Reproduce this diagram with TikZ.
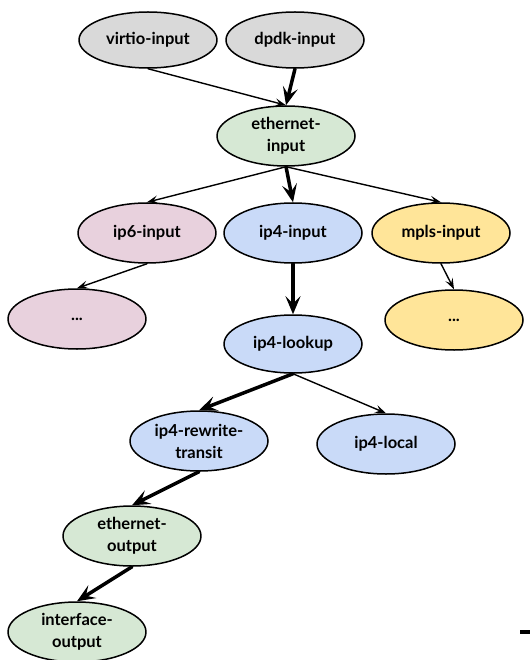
\documentclass[tikz,border=0pt]{standalone}
\usepackage{fontspec}
\setmainfont{Lato}
\usetikzlibrary{arrows.meta,shapes.geometric}

\definecolor{srcgray}{RGB}{217,217,217}
\definecolor{ethgreen}{RGB}{214,232,212}
\definecolor{ipsixpink}{RGB}{232,209,221}
\definecolor{ipfourblue}{RGB}{201,218,248}
\definecolor{mplsyellow}{RGB}{255,229,153}

\begin{document}
\begin{tikzpicture}[x=1pt, y=-1pt, line cap=round, line join=round,
    graphnode/.style={ellipse, draw, line width=1.5pt, inner sep=0pt,
        minimum width=138pt, minimum height=60pt, align=center,
        font=\fontsize{16.5}{22}\selectfont\bfseries},
    thinedge/.style={-{Stealth[length=11pt,width=8pt,inset=4.5pt]}, line width=1.4pt},
    thickedge/.style={-{Stealth[length=18pt,width=15pt,inset=7.5pt]}, line width=3.5pt}]

\useasboundingbox (0,0) rectangle (530,660);

% Sources -------------------------------------
\node[graphnode, fill=srcgray, minimum height=56pt] (virtio) at (148,40) {virtio-input};
\node[graphnode, fill=srcgray, minimum height=56pt] (dpdk) at (295,40) {dpdk-input};

% Ethernet / L3 inputs -------------------------
\node[graphnode, fill=ethgreen] (ethin) at (286,136) {ethernet-\\input};
\node[graphnode, fill=ipsixpink] (ipsix) at (147,233) {ip6-input};
\node[graphnode, fill=ipfourblue] (ipfour) at (293,233) {ip4-input};
\node[graphnode, fill=mplsyellow] (mpls) at (441,233) {mpls-input};
\node[graphnode, fill=ipsixpink] (ipsixmore) at (77,319) {...};
\node[graphnode, fill=mplsyellow] (mplsmore) at (454,320) {...};

% ip4 path ---------------------------------------
\node[graphnode, fill=ipfourblue, minimum height=58pt] (lookup) at (293,344) {ip4-lookup};
\node[graphnode, fill=ipfourblue] (rewrite) at (199,441) {ip4-rewrite-\\transit};
\node[graphnode, fill=ipfourblue] (local) at (386,444) {ip4-local};
\node[graphnode, fill=ethgreen] (ethout) at (132,536) {ethernet-\\output};
\node[graphnode, fill=ethgreen] (ifout) at (77,632) {interface-\\output};

% Edges ------------------------------------------
\draw[thinedge] (virtio.south) -- (ethin.north);
\draw[thickedge] (dpdk.south) -- (ethin.north);

\draw[thinedge] (ethin.south) -- (ipsix.north);
\draw[thickedge] (ethin.south) -- (ipfour.north);
\draw[thinedge] (ethin.south) -- (mpls.north);

\draw[thinedge] (ipsix.south) -- (ipsixmore.north);
\draw[thinedge] (mpls.south) -- (mplsmore.north);

\draw[thickedge] (ipfour.south) -- (lookup.north);
\draw[thickedge] (lookup.south) -- (rewrite.north);
\draw[thinedge] (lookup.south) -- (local.north);
\draw[thickedge] (rewrite.south) -- (ethout.north);
\draw[thickedge] (ethout.south) -- (ifout.north);

% stray mark at the right edge
\draw[line width=3.2pt, line cap=butt] (520,632) -- (530,632);

\end{tikzpicture}
\end{document}
